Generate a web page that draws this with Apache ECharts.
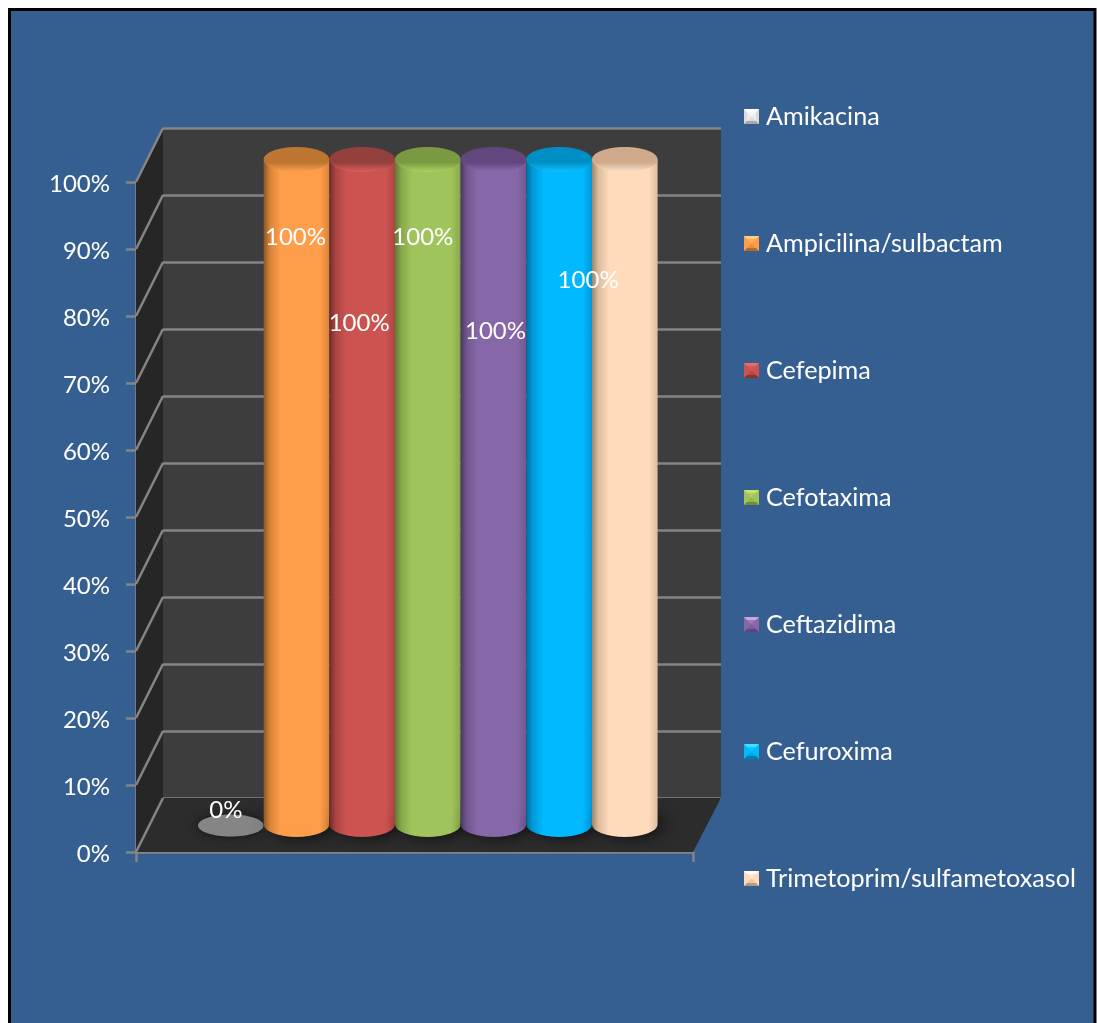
<!DOCTYPE html>
<html>
<head>
<meta charset="utf-8">
<style>html,body{margin:0;padding:0;background:#fff}#chart{width:1097px;height:1023px}</style>
<script src="https://cdn.jsdelivr.net/npm/echarts@6/dist/echarts.min.js"></script>
</head>
<body>
<div id="chart"></div>
<script>
// Antibiotic resistance percentages, one cylinder per drug
const antibiotics = ['Amikacina', 'Ampicilina/sulbactam', 'Cefepima', 'Cefotaxima', 'Ceftazidima', 'Cefuroxima', 'Trimetoprim/sulfametoxasol'];
const resistance = [0, 100, 100, 100, 100, 100, 100];
const valueTicks = [0, 10, 20, 30, 40, 50, 60, 70, 80, 90, 100];

// Bar look: face colour, shaded edges, cap colour, cap rim
const faceColors = ['#dcdcdc', '#ff9e4a', '#cb5350', '#a0c45c', '#8667a8', '#00b9ff', '#ffdbbc'];
const edgeColors = ['#6a6a6a', '#8a5622', '#6e2c2a', '#5f7a30', '#4b3866', '#006f9e', '#a08468'];
const sideColors = ['#7a7a7a', '#d98438', '#ad4543', '#88a84c', '#72578f', '#0099d8', '#dcbc9f'];
const capColors = ['#808080', '#bd7632', '#94403d', '#7a9a42', '#62467e', '#008fc4', '#cfab8c'];
const rimColors = ['#8a8a8a', '#ff9e4a', '#dc605c', '#aad262', '#8a6cae', '#12bfff', '#ffe2c8'];
const swatchLight = ['#ffffff', '#ffd080', '#e07070', '#c8e070', '#c8a8e0', '#40e0ff', '#ffffff'];
const swatchDark = ['#a8a8a8', '#b06c28', '#8a3230', '#6e8c38', '#5e4480', '#0080b0', '#b89878'];

// Pixel shift of each drug's value label from its cylinder's base centre
const labelShifts = [[-5, -14], [-1, -587], [-3, -501], [-5, -587], [2, -493], [29, -544], null];

const PANEL = '#365f91';
const DEPTH_X = 27;
const DEPTH_Y = -54;
const GRID_LINE = '#858585';
const LINE_WIDTH = 2.5;
const TEXT_FONT = 'Lato';

function swatchIcon(i) {
  const svg = `<svg xmlns="http://www.w3.org/2000/svg" width="15" height="15">
<rect width="15" height="15" fill="${faceColors[i]}"/>
<polygon points="0,0 15,0 7.5,7.5" fill="${swatchLight[i]}"/>
<polygon points="0,15 15,15 7.5,7.5" fill="${swatchDark[i]}"/>
<rect x="3" y="3" width="9" height="9" fill="${i === 0 ? '#f4f4f4' : faceColors[i]}" opacity="0.7"/>
</svg>`;
  return 'image://data:image/svg+xml;charset=utf-8,' + encodeURIComponent(svg);
}

// Side wall, floor and the diagonal rulings that join both sets of gridlines
function renderShell(params, api) {
  const children = [];
  const v = api.value(0);
  const mid = api.coord([0, v]);
  const w = api.size([1, 0])[0];
  const p = [mid[0] - w / 2, mid[1]];
  const end = [p[0] + DEPTH_X, p[1] + DEPTH_Y];
  if (params.dataIndex === 0) {
    const topMid = api.coord([0, 100]);
    const top = [topMid[0] - w / 2, topMid[1]];
    const right = [mid[0] + w / 2, mid[1]];
    children.push({
      type: 'polygon', z2: 0,
      shape: { points: [top, [top[0] + DEPTH_X, top[1] + DEPTH_Y], end, p] },
      style: { fill: '#262626' }
    });
    children.push({
      type: 'polygon', z2: 1,
      shape: { points: [p, right, [right[0] + DEPTH_X + 1, right[1] + DEPTH_Y], end] },
      style: { fill: '#2c2c2c' }
    });
  }
  children.push({
    type: 'line', z2: 2,
    shape: { x1: p[0], y1: p[1], x2: end[0], y2: end[1] },
    style: { stroke: GRID_LINE, lineWidth: LINE_WIDTH }
  });
  return { type: 'group', children };
}

function renderCylinder(i) {
  return function (params, api) {
    const c = api.coord([api.value(0), api.value(1)]);
    const base = api.coord([api.value(0), 0]);
    const w = api.size([1, 0])[0];
    const rx = w / 2;
    const ry = 12.5;
    const cx = c[0];
    const children = [];
    if (api.value(1) === 0) {
      children.push({
        type: 'ellipse', z2: 5,
        shape: { cx, cy: base[1] + 1, rx, ry: 11 },
        style: { fill: '#858585', shadowBlur: 10, shadowColor: 'rgba(0,0,0,0.55)' }
      });
    } else {
      const body = new echarts.graphic.LinearGradient(0, 0, 1, 0, [
        { offset: 0, color: edgeColors[i] },
        { offset: 0.1, color: sideColors[i] },
        { offset: 0.26, color: faceColors[i] },
        { offset: 0.86, color: faceColors[i] },
        { offset: 1, color: sideColors[i] }
      ]);
      const cap = new echarts.graphic.LinearGradient(0, 0, 0, 1, [
        { offset: 0, color: capColors[i] },
        { offset: 0.62, color: capColors[i] },
        { offset: 1, color: rimColors[i] }
      ]);
      children.push({
        type: 'ellipse', z2: 3,
        shape: { cx, cy: base[1], rx, ry },
        style: { fill: '#111', shadowBlur: 16, shadowOffsetX: 6, shadowColor: 'rgba(0,0,0,0.7)' }
      });
      children.push({
        type: 'path', z2: 4,
        shape: {
          pathData: `M${cx - rx} ${c[1]} L${cx - rx} ${base[1]} A${rx} ${ry} 0 0 0 ${cx + rx} ${base[1]} L${cx + rx} ${c[1]} Z`,
          layout: 'cover',
          x: cx - rx, y: c[1], width: 2 * rx, height: base[1] + ry - c[1]
        },
        style: { fill: body }
      });
      children.push({
        type: 'ellipse', z2: 5,
        shape: { cx, cy: c[1], rx, ry },
        style: { fill: cap }
      });
    }
    return { type: 'group', children };
  };
}

// Value labels sit above every cylinder, since some straddle two neighbours
function renderValueLabel(params, api) {
  const i = api.value(0);
  const shift = labelShifts[i];
  if (!shift) return { type: 'group', children: [] };
  const base = api.coord([i, 0]);
  return {
    type: 'text', z2: 10,
    style: {
      x: base[0] + shift[0], y: base[1] + shift[1],
      text: api.value(1) + '%',
      fill: '#fff', font: '24px ' + TEXT_FONT,
      align: 'center', verticalAlign: 'middle'
    }
  };
}

const chart = echarts.init(document.getElementById('chart'), null, { renderer: 'canvas' });
chart.setOption({
  animation: false,
  backgroundColor: '#ffffff',
  graphic: [{
    type: 'rect', z: -10,
    shape: { x: 9.5, y: 9.5, width: 1085.5, height: 1030 },
    style: { fill: PANEL, stroke: '#000', lineWidth: 3 }
  }],
  grid: [
    { left: 136, top: 182, width: 557, height: 670 },
    { left: 163, top: 128, width: 558, height: 670, show: true, backgroundColor: '#3d3d3d', borderWidth: 0 },
    { left: 198, top: 159.5, width: 459.6, height: 665 }
  ],
  xAxis: [
    {
      gridIndex: 0, type: 'category', data: [''],
      axisLine: { lineStyle: { color: GRID_LINE, width: LINE_WIDTH } },
      axisTick: { show: true, length: 10, lineStyle: { color: GRID_LINE, width: LINE_WIDTH } },
      axisLabel: { show: false }
    },
    { gridIndex: 1, type: 'category', data: [''], show: false },
    { gridIndex: 2, type: 'category', data: antibiotics, show: false }
  ],
  yAxis: [
    {
      gridIndex: 0, type: 'value', min: 0, max: 100, interval: 10,
      axisLine: { show: true, lineStyle: { color: GRID_LINE, width: LINE_WIDTH } },
      axisTick: { show: true, length: 10, lineStyle: { color: GRID_LINE, width: LINE_WIDTH } },
      splitLine: { show: false },
      axisLabel: {
        formatter: '{tick|{value}%}', margin: 26,
        rich: { tick: { color: '#fff', fontSize: 24, fontFamily: TEXT_FONT, padding: [5, 0, 0, 0] } }
      }
    },
    {
      gridIndex: 1, type: 'value', min: 0, max: 100, interval: 10,
      axisLine: { show: false }, axisTick: { show: false }, axisLabel: { show: false },
      splitLine: { show: true, lineStyle: { color: GRID_LINE, width: LINE_WIDTH } }
    },
    { gridIndex: 2, type: 'value', min: 0, max: 100, show: false }
  ],
  legend: {
    orient: 'vertical', left: 739, top: 99,
    itemWidth: 15, itemHeight: 15, itemGap: 102,
    selectedMode: false,
    textStyle: { color: '#fff', fontSize: 25.2, fontFamily: TEXT_FONT, padding: [0, 0, 0, 2] },
    data: antibiotics.map((name, i) => ({ name, icon: swatchIcon(i) }))
  },
  series: [
    {
      type: 'custom', name: 'shell', xAxisIndex: 0, yAxisIndex: 0, z: 1, silent: true,
      data: valueTicks.map(v => [v]),
      encode: { y: 0 },
      renderItem: renderShell
    },
    ...antibiotics.map((name, i) => ({
      type: 'custom', name, xAxisIndex: 2, yAxisIndex: 2, z: 3 + i,
      itemStyle: { color: faceColors[i] },
      data: [[i, resistance[i]]],
      encode: { x: 0, y: 1 },
      renderItem: renderCylinder(i)
    })),
    {
      type: 'custom', name: 'value labels', xAxisIndex: 2, yAxisIndex: 2, z: 20, silent: true,
      data: resistance.map((v, i) => [i, v]),
      encode: { x: 0, y: 1 },
      renderItem: renderValueLabel
    }
  ]
});
</script>
</body>
</html>
